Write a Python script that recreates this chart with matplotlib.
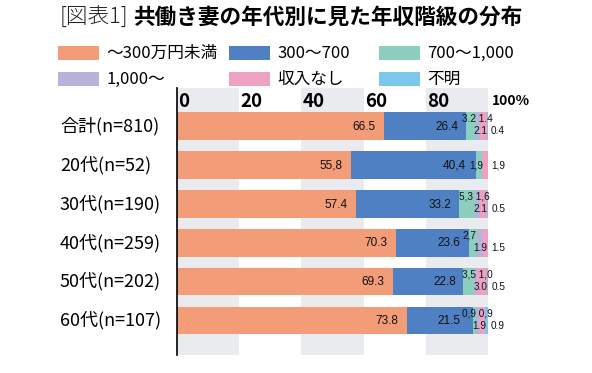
import matplotlib
matplotlib.use("Agg")
import matplotlib.pyplot as plt
from matplotlib.patches import Rectangle
from matplotlib.transforms import blended_transform_factory

# ---------------------------------------------------------------------------
# Data
# ---------------------------------------------------------------------------
categories = ["合計(n=810)", "20代(n=52)", "30代(n=190)",
              "40代(n=259)", "50代(n=202)", "60代(n=107)"]
series_names = ["～300万円未満", "300～700", "700～1,000", "1,000～", "収入なし", "不明"]

lt300 = [66.5, 55.8, 57.4, 70.3, 69.3, 73.8]
r300_700 = [26.4, 40.4, 33.2, 23.6, 22.8, 21.5]
r700_1000 = [3.2, 1.9, 5.3, 2.7, 3.5, 0.9]
ge1000 = [1.4, 0.0, 1.6, 1.9, 1.0, 0.9]
no_income = [2.1, 1.9, 2.1, 1.5, 3.0, 1.9]
unknown = [0.4, 0.0, 0.5, 0.0, 0.5, 0.9]

# printed labels (the source mixes "." and ",")
lab_lt300 = ["66.5", "55,8", "57.4", "70.3", "69.3", "73.8"]
lab_300_700 = ["26.4", "40,4", "33.2", "23.6", "22.8", "21.5"]
lab_700_1000 = ["3.2", "1,9", "5,3", "2,7", "3,5", "0,9"]
lab_ge1000 = ["1.4", "", "1,6", "1.9", "1,0", "0,9"]
lab_no_income = ["2.1", "1,9", "2.1", "1.5", "3.0", "1.9"]
lab_unknown = ["0.4", "", "0.5", "", "0.5", "0.9"]

xticks = [0, 20, 40, 60, 80]

colors = ["#F39C78", "#4F80C4", "#8DCFBF", "#BAB3D9", "#EFA1C4", "#7CC7EC"]
BAND = "#E9EBEE"

JP = "Noto Sans CJK JP"
NUM = "Liberation Sans"
plt.rcParams["font.family"] = [JP, "DejaVu Sans"]

# ---------------------------------------------------------------------------
# Figure
# ---------------------------------------------------------------------------
W, H = 592, 373
fig = plt.figure(figsize=(W / 100, H / 100), dpi=100)
ax = fig.add_axes([177 / W, 1 - 355 / H, (488 - 177) / W, (355 - 88) / H])

n = len(categories)
ypos = list(range(n))
bar_h = 0.71

for lo, hi in [(0, 20), (40, 60), (80, 100)]:
    ax.axvspan(lo, hi, color=BAND, zorder=0, lw=0)

series = [lt300, r300_700, r700_1000, ge1000, no_income, unknown]
labels = [lab_lt300, lab_300_700, lab_700_1000, lab_ge1000, lab_no_income, lab_unknown]

left = [0.0] * n
starts = []
for vals, col in zip(series, colors):
    ax.barh(ypos, vals, left=left, height=bar_h, color=col, lw=0, zorder=2)
    starts.append(list(left))
    left = [l + v for l, v in zip(left, vals)]

num_kw = dict(family=NUM, color="#111111", zorder=3)
SMALL = 7.2

for i in range(n):
    small = [(k, labels[k][i]) for k in range(2, 6) if series[k][i] > 0]
    last_k, last_lab = small[-1]
    rest = small[:-1]
    total = starts[5][i] + series[5][i]
    x0 = min(starts[rest[0][0]][i], 91.8)

    # big segments: right-aligned inside the segment end
    end0 = starts[0][i] + series[0][i]
    ax.text(end0 - 2.6, i + 0.02, labels[0][i], ha="right", va="center",
            fontsize=8.5, **num_kw)
    end1 = starts[1][i] + series[1][i]
    if len(rest) == 1:
        x1 = end1 - 3.4
    else:
        x1 = min(end1 - 2.4, x0 - 0.8)
    ax.text(x1, i + 0.02, labels[1][i], ha="right", va="center",
            fontsize=8.5, **num_kw)

    # small segments
    if len(rest) == 1:
        k, lab = rest[0]
        ax.text(starts[k][i] + series[k][i] + 0.4, i + 0.02, lab, ha="right",
                va="center", fontsize=SMALL, **num_kw)
        ax.text(total + 1.0, i + 0.02, last_lab, ha="left", va="center",
                fontsize=SMALL, **num_kw)
    else:
        top = " ".join(lab for _, lab in rest[:-1])
        ax.text(x0, i - 0.18, top, ha="left", va="center", fontsize=SMALL, **num_kw)
        ax.text(total - 0.3, i + 0.14, rest[-1][1], ha="right", va="center",
                fontsize=SMALL, **num_kw)
        ax.text(total + 1.0, i + 0.13, last_lab, ha="left", va="center",
                fontsize=SMALL, **num_kw)

ax.set_xlim(0, 100)
ax.set_ylim(n - 1 + 0.887, -0.977)
ax.set_xticks([])
ax.set_yticks([])
for s in ["top", "right", "bottom"]:
    ax.spines[s].set_visible(False)
ax.spines["left"].set_color("black")
ax.spines["left"].set_linewidth(1.2)
ax.spines["left"].set_zorder(4)

# axis numbers on top of the bands
for t in xticks:
    ax.text(t + 0.4, -0.64, str(t), ha="left", va="center", fontsize=13.5,
            fontweight="bold", zorder=3)
ax.text(101.2, -0.64, "100%", ha="left", va="center", fontsize=10,
        fontweight="bold", zorder=3, clip_on=False)

# category labels
tr = blended_transform_factory(fig.transFigure, ax.transData)
for i, c in enumerate(categories):
    ax.text(60 / W, i, c, transform=tr, ha="left", va="center", fontsize=13,
            clip_on=False)

# legend (manual, three columns)
leg_x = [58, 229, 379]
leg_y = [53, 79]
for j, (name, col) in enumerate(zip(series_names, colors)):
    cx = leg_x[j % 3]
    cy = leg_y[j // 3]
    fig.patches.append(Rectangle((cx / W, 1 - (cy + 6.5) / H), 41 / W, 13 / H,
                                 transform=fig.transFigure, facecolor=col,
                                 edgecolor="none"))
    fig.text((cx + 48) / W, 1 - cy / H, name, ha="left", va="center",
             fontsize=12)

# title: light bracket part + bold part
t1 = fig.text(60 / W, 1 - 17 / H, "[図表1]", ha="left", va="center",
              fontsize=15.6, fontweight="light", color="#222222")
fig.canvas.draw()
bb = t1.get_window_extent(renderer=fig.canvas.get_renderer())
fig.text(bb.x1 / W + 4 / W, 1 - 17 / H, "共働き妻の年代別に見た年収階級の分布",
         ha="left", va="center", fontsize=15.6, fontweight="bold")

fig.savefig("out.png", dpi=100)
